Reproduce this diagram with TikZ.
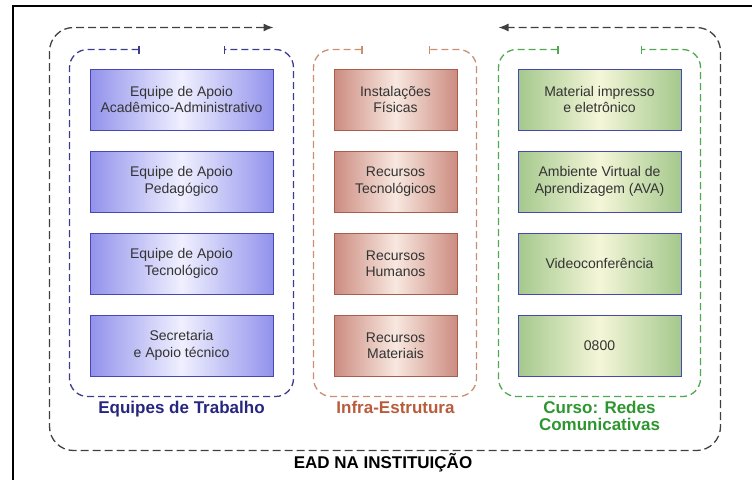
\documentclass[tikz,border=0pt]{standalone}
\usepackage{fontspec}
\setmainfont{Liberation Sans}
\usetikzlibrary{positioning,arrows.meta,calc}
\definecolor{boxblue}{RGB}{146,146,236}
\definecolor{boxbluec}{RGB}{240,240,255}
\definecolor{edgeblue}{RGB}{70,70,180}
\definecolor{boxred}{RGB}{204,140,128}
\definecolor{boxredc}{RGB}{248,232,224}
\definecolor{edgered}{RGB}{170,92,76}
\definecolor{boxgreen}{RGB}{164,200,140}
\definecolor{boxgreenc}{RGB}{244,246,216}
\definecolor{labblue}{RGB}{38,38,128}
\definecolor{labred}{RGB}{184,92,60}
\definecolor{labgreen}{RGB}{46,150,46}
\definecolor{dashblue}{RGB}{60,60,140}
\definecolor{dashred}{RGB}{200,144,112}
\definecolor{dashgreen}{RGB}{80,168,80}

\tikzset{
  box/.style={draw,line width=1pt,align=center,minimum height=61pt,inner sep=2pt,
    font=\fontsize{14}{16.5}\selectfont,text=black!80},
  bluebox/.style={box,draw=edgeblue,minimum width=183pt,
    left color=boxblue,right color=boxblue,middle color=boxbluec},
  redbox/.style={box,draw=edgered,minimum width=123pt,
    left color=boxred,right color=boxred,middle color=boxredc},
  greenbox/.style={box,draw=edgeblue,minimum width=163pt,
    left color=boxgreen,right color=boxgreen,middle color=boxgreenc},
  grpframe/.style={line width=1.3pt,dash pattern=on 7pt off 4pt,rounded corners=18pt,
    {Bar[width=8pt]}-{Bar[width=8pt]}},
  grplabel/.style={font=\fontsize{17}{17}\selectfont\bfseries,align=center,anchor=north}
}

\begin{document}
\begin{tikzpicture}[x=1pt,y=-1pt]
    \useasboundingbox (0,0) rectangle (752,480);
    % page frame
    \draw[line width=2.5pt] (13,480) -- (13,6) -- (752,6);
    % Equipes de Trabalho
    \node[bluebox] (eq1) at (181.5,99.5) {Equipe de Apoio\\Acadêmico-Administrativo};
    \node[bluebox,below=20pt of eq1] (eq2) {Equipe de Apoio\\Pedagógico};
    \node[bluebox,below=20pt of eq2] (eq3) {Equipe de Apoio\\Tecnológico};
    \node[bluebox,below=20pt of eq3] (eq4) {Secretaria\\e Apoio técnico};
    % Infra-Estrutura
    \node[redbox,right=60pt of eq1] (inf1) {Instalações\\Físicas};
    \node[redbox,below=20pt of inf1] (inf2) {Recursos\\Tecnológicos};
    \node[redbox,below=20pt of inf2] (inf3) {Recursos\\Humanos};
    \node[redbox,below=20pt of inf3] (inf4) {Recursos\\Materiais};
    % Curso
    \node[greenbox,right=60pt of inf1] (cur1) {Material impresso\\e eletrônico};
    \node[greenbox,below=20pt of cur1] (cur2) {Ambiente Virtual de\\Aprendizagem (AVA)};
    \node[greenbox,below=20pt of cur2] (cur3) {Videoconferência};
    \node[greenbox,below=20pt of cur3] (cur4) {0800};
    % group frames
    \draw[grpframe,draw=dashblue] ($(eq1.north)+(-42,-19)$) -- ($(eq1.north west)+(-20,-19)$)
        -- ($(eq4.south west)+(-20,20)$) -- ($(eq4.south east)+(20,20)$)
        -- ($(eq1.north east)+(20,-19)$) -- ($(eq1.north)+(42,-19)$);
    \draw[grpframe,draw=dashred] ($(inf1.north)+(-33,-19)$) -- ($(inf1.north west)+(-20,-19)$)
        -- ($(inf4.south west)+(-20,20)$) -- ($(inf4.south east)+(19,20)$)
        -- ($(inf1.north east)+(19,-19)$) -- ($(inf1.north)+(33,-19)$);
    \draw[grpframe,draw=dashgreen] ($(cur1.north)+(-41,-19)$) -- ($(cur1.north west)+(-19,-19)$)
        -- ($(cur4.south west)+(-19,20)$) -- ($(cur4.south east)+(19,20)$)
        -- ($(cur1.north east)+(19,-19)$) -- ($(cur1.north)+(41,-19)$);
    % outer frame
    \draw[line width=1.3pt,draw=black!75,dash pattern=on 8pt off 4pt,rounded corners=24pt,
        {Latex[length=10pt,width=8pt]}-{Latex[length=10pt,width=8pt]}]
        ($(eq1.north east)+(0,-41)$) -- ($(eq1.north west)+(-40,-41)$)
        -- ($(eq4.south west)+(-40,74)$) -- ($(cur4.south east)+(39,74)$)
        -- ($(cur1.north east)+(39,-41)$) -- ($(cur1.north west)+(-19,-41)$);
    % labels
    \node[grplabel,text=labblue] (lab1) at ($(eq4.south)+(0,21)$) {Equipes de Trabalho};
    \node[grplabel,text=labred] (lab2) at ($(inf4.south)+(0,21)$) {Infra-Estrutura};
    \node[grplabel,text=labgreen] (lab3) at ($(cur4.south)+(0,21)$) {Curso: Redes\\Comunicativas};
    \node[font=\fontsize{17}{17}\selectfont\bfseries] (ead) at (383,463) {EAD NA INSTITUIÇÃO};
\end{tikzpicture}
\end{document}
